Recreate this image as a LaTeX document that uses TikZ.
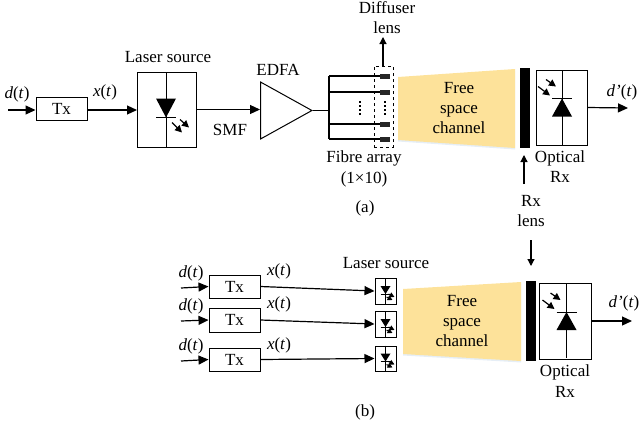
\documentclass[tikz,border=0pt]{standalone}
\usepackage{fontspec}
\setmainfont{Liberation Serif}
\usepackage{xcolor}
\usetikzlibrary{arrows.meta,positioning,shapes.geometric,calc}
\definecolor{chanyellow}{HTML}{FDE29A}
\definecolor{chanshadow}{HTML}{E6EEF6}

\begin{document}
\begin{tikzpicture}[
x=1pt,
y=1pt,
every node/.style={font=\fontsize{17}{19}\selectfont,inner sep=0pt},
sigbox/.style={rectangle,draw,line width=1pt,minimum width=51pt,minimum height=23pt},
optbox/.style={rectangle,draw,line width=1pt},
fibreend/.style={rectangle,fill=black!85,minimum width=10pt,minimum height=5pt},
dashbox/.style={rectangle,draw,dashed,line width=1pt,minimum width=19pt,minimum height=81pt},
lensbar/.style={rectangle,fill=black,minimum width=10pt,minimum height=80pt},
sigarr/.style={-{Triangle[length=10pt,width=9pt]},line width=1.2pt},
lblarr/.style={-{Triangle[length=7pt,width=7pt]},line width=1.2pt},
fibre/.style={line width=1.1pt},
dotline/.style={line width=1.3pt,dash pattern=on 1.6pt off 2.4pt},
laser/.pic={
\draw[line width=1pt] (0,37) -- (0,-37);
\fill (-10,11) -- (10,11) -- (0,-8) -- cycle;
\draw[line width=1pt] (-10,-8) -- (10,-8);
\draw[lblarr] (6,-13) -- (16,-23);
\draw[lblarr] (14,-10) -- (23,-18);
},
photorx/.pic={
\draw[line width=1pt] (0,37) -- (0,-37);
\fill (-10,-9) -- (10,-9) -- (0,9) -- cycle;
\draw[line width=1pt] (-10,9) -- (10,9);
\draw[lblarr] (-16,28) -- (-6,21);
\draw[lblarr] (-24,21) -- (-12,12);
},
lasersmall/.pic={
\draw[line width=1pt] (0,13) -- (0,-13);
\fill (-5,5) -- (5,5) -- (0,-3) -- cycle;
\draw[line width=.9pt] (-5,-3) -- (5,-3);
\draw[-{Triangle[length=5pt,width=5pt]},line width=1.1pt] (1,-6) -- (7,-9);
\draw[-{Triangle[length=5pt,width=5pt]},line width=1.1pt] (3,-3) -- (9,-6);
}
]
\useasboundingbox (0,0) rectangle (639,-429);

\coordinate (din) at (8,-110);
\node[sigbox] (tx) at (61.5,-108.5) {Tx};
\node[optbox,minimum width=59pt,minimum height=75pt] (ls) at (167,-109.5) {};
\pic at (166,-109.5) {laser};
\node[isosceles triangle,isosceles triangle apex angle=58,draw,line width=1pt,minimum height=51pt,minimum width=57pt,anchor=west] (edfa) at (260,-110.5) {};
\coordinate (edfain) at (260,-109.5);

\node (ldin) at (17,-94) {\textit{d}(\textit{t})};
\node (lxt) at (105,-92) {\textit{x}(\textit{t})};
\node (llaser) at (168,-57) {Laser source};
\node (lsmf) at (230,-130) {SMF};
\node (ledfa) at (278,-70) {EDFA};

\coordinate (bus) at (329,-110.5);
\coordinate (bustop) at (329,-76);
\coordinate (busbot) at (329,-139);
\node[fibreend] (f1) at (385,-76) {};
\node[fibreend] (f2) at (385,-92) {};
\node[fibreend] (f3) at (385,-124) {};
\node[fibreend] (f4) at (385,-139) {};
\node[dashbox] (diff) at (383.5,-106.5) {};
\coordinate (fa) at (360,-101);
\coordinate (fb) at (360,-116);
\coordinate (fc) at (385,-101);
\coordinate (fd) at (385,-116);

\fill[chanshadow] (398,-78.5) -- (515,-70.5) -- (515,-149.5) -- (398,-141.5) -- cycle;
\fill[chanyellow] (398,-77) -- (515,-69) -- (515,-148) -- (398,-140) -- cycle;
\node[align=center,font=\fontsize{17}{20.4}\selectfont] (chan) at (459,-108) {Free\\space\\channel};
\node[lensbar] (rxlens) at (525,-108) {};
\node[optbox,minimum width=51pt,minimum height=75pt] (rx) at (561.5,-107.5) {};
\pic at (562,-107.5) {photorx};
\coordinate (dout) at (628,-108);

\node (ldout) at (622,-92) {\textit{d'}(\textit{t})};
\node[align=center,font=\fontsize{17}{20}\selectfont] (ldiff) at (387,-18) {Diffuser\\lens};
\coordinate (ldiffarr) at (383,-37);
\node[align=center,font=\fontsize{17}{21}\selectfont] (lfibre) at (364,-168.5) {Fibre array\\(1×10)};
\node (lcapa) at (365,-208) {(a)};
\node[align=center,font=\fontsize{17}{20.5}\selectfont] (lopt) at (560,-166.5) {Optical\\Rx};
\node[align=center,font=\fontsize{17}{20}\selectfont] (lrx) at (531,-211) {Rx\\lens};
\coordinate (lrxup) at (524,-184);
\coordinate (lrxupend) at (524,-155);
\coordinate (lrxdn) at (531,-240);
\coordinate (lrxdnend) at (531,-266);

\draw[sigarr] (din) -- (tx.west |- din);
\draw[sigarr] (tx.east |- din) -- (ls.west |- din);
\draw[sigarr] (ls.east) -- (edfain);
\draw[fibre] (edfa.east) -- (bus);
\draw[fibre] (bustop) -- (busbot);
\draw[fibre] (bustop) -- (f1);
\draw[fibre] (f2 -| bus) -- (f2);
\draw[fibre] (f3 -| bus) -- (f3);
\draw[fibre] (busbot) -- (f4);
\draw[dotline] (fa) -- (fb);
\draw[dotline] (fc) -- (fd);
\draw[lblarr] (ldiffarr |- diff.north) -- (ldiffarr);
\draw[sigarr] (rx.east) -- (dout);
\draw[lblarr] (lrxup) -- (lrxupend);
\draw[lblarr] (lrxdn) -- (lrxdnend);

\coordinate (din1) at (181,-288);
\coordinate (din2) at (181,-321);
\coordinate (din3) at (181,-361);
\node[sigbox] (tx1) at (234.5,-286.5) {Tx};
\node[sigbox,minimum height=24pt] (tx2) at (234.5,-320) {Tx};
\node[sigbox] (tx3) at (234.5,-359.5) {Tx};
\node[optbox,minimum width=21pt,minimum height=26pt] (ls1) at (385.5,-291) {};
\node[optbox,minimum width=21pt,minimum height=26pt] (ls2) at (385.5,-324) {};
\node[optbox,minimum width=21pt,minimum height=25pt] (ls3) at (385.5,-358.5) {};
\pic at (385.5,-291) {lasersmall};
\pic at (385.5,-324) {lasersmall};
\pic at (385.5,-358.5) {lasersmall};

\node (ld1) at (191,-273) {\textit{d}(\textit{t})};
\node (ld2) at (191,-306) {\textit{d}(\textit{t})};
\node (ld3) at (191,-346) {\textit{d}(\textit{t})};
\node (lx1) at (279,-271) {\textit{x}(\textit{t})};
\node (lx2) at (279,-304) {\textit{x}(\textit{t})};
\node (lx3) at (279,-345) {\textit{x}(\textit{t})};
\node (llaserb) at (386,-263) {Laser source};
\node (lcapb) at (365,-412) {(b)};

\fill[chanshadow] (403,-290.5) -- (521,-283.5) -- (521,-362.5) -- (403,-355.5) -- cycle;
\fill[chanyellow] (403,-289) -- (521,-282) -- (521,-361) -- (403,-354) -- cycle;
\node[align=center,font=\fontsize{17}{20.4}\selectfont] (chanb) at (462,-321) {Free\\space\\channel};
\node[lensbar] (rxlensb) at (531,-321) {};
\node[optbox,minimum width=52pt,minimum height=76pt] (rxb) at (565,-321) {};
\pic at (566.5,-321) {photorx};
\coordinate (doutb) at (632,-321);
\node (ldoutb) at (624,-303) {\textit{d'}(\textit{t})};
\node[align=center,font=\fontsize{17}{20.5}\selectfont] (loptb) at (565,-381) {Optical\\Rx};

\draw[sigarr] (din1) -- (tx1.west);
\draw[sigarr] (din2) -- (tx2.west);
\draw[sigarr] (din3) -- (tx3.west);
\draw[sigarr] (tx1.east) -- (ls1.west);
\draw[sigarr] (tx2.east) -- (ls2.west);
\draw[sigarr] (tx3.east) -- (ls3.west);
\draw[sigarr] (rxb.east) -- (doutb);
\end{tikzpicture}
\end{document}
